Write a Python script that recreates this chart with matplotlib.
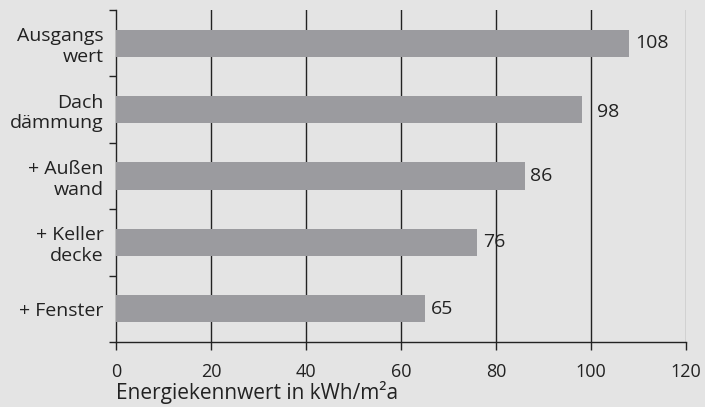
import matplotlib
matplotlib.use("Agg")
import matplotlib.pyplot as plt
import numpy as np

categories = ["Ausgangs\nwert", "Dach\ndämmung", "+ Außen\nwand", "+ Keller\ndecke", "+ Fenster"]
values = [108, 98, 86, 76, 65]
xticks = [0, 20, 40, 60, 80, 100, 120]
xlabel = "Energiekennwert in kWh/m²a"

plt.rcParams['font.family'] = ['Open Sans', 'DejaVu Sans']

bg = '#e4e4e4'
fig = plt.figure(figsize=(7.05, 4.07), dpi=100, facecolor=bg)
ax = fig.add_axes([116/705, 1-342/407, 570/705, 332/407])
ax.set_facecolor(bg)

n = len(categories)
ypos = np.arange(n)
ax.barh(ypos, values, height=0.41, color='#9b9b9f', zorder=3)
ax.set_xlim(0, 120)
ax.set_ylim(n - 0.5, -0.5)

for x in xticks[1:]:
    ax.axvline(x, color='#222222' if x < 120 else '#888888', lw=1, zorder=1)

for y, v in zip(ypos, values):
    tx = v + 1.2
    dy = 0.0
    # move a label past a gridline that would cut through its first digit
    for g in xticks:
        if tx < g < v + 3.5:
            tx = g + 1.3
            dy = 0.04
    ax.text(tx, y + dy, str(v), va='center', ha='left', fontsize=14, color='#222222', zorder=4)

ax.set_yticks(ypos)
ax.set_yticklabels(categories, fontsize=14, color='#222222', linespacing=1.2)
ax.tick_params(axis='y', length=0, pad=9)
ax.set_yticks(np.arange(-0.5, n, 1.0), minor=True)
ax.tick_params(axis='y', which='minor', length=5, width=1, color='#222222')

ax.set_xticks(xticks)
ax.set_xticklabels([str(x) for x in xticks], fontsize=13, color='#222222')
ax.tick_params(axis='x', length=6, width=1, color='#222222', pad=9)

for s in ['top', 'right']:
    ax.spines[s].set_visible(False)
for s in ['left', 'bottom']:
    ax.spines[s].set_color('#222222')
    ax.spines[s].set_linewidth(1)

fig.text(116/705, 1-393/407, xlabel, fontsize=15, color='#222222', ha='left', va='center')

fig.savefig("out.png", dpi=100, facecolor=fig.get_facecolor())
